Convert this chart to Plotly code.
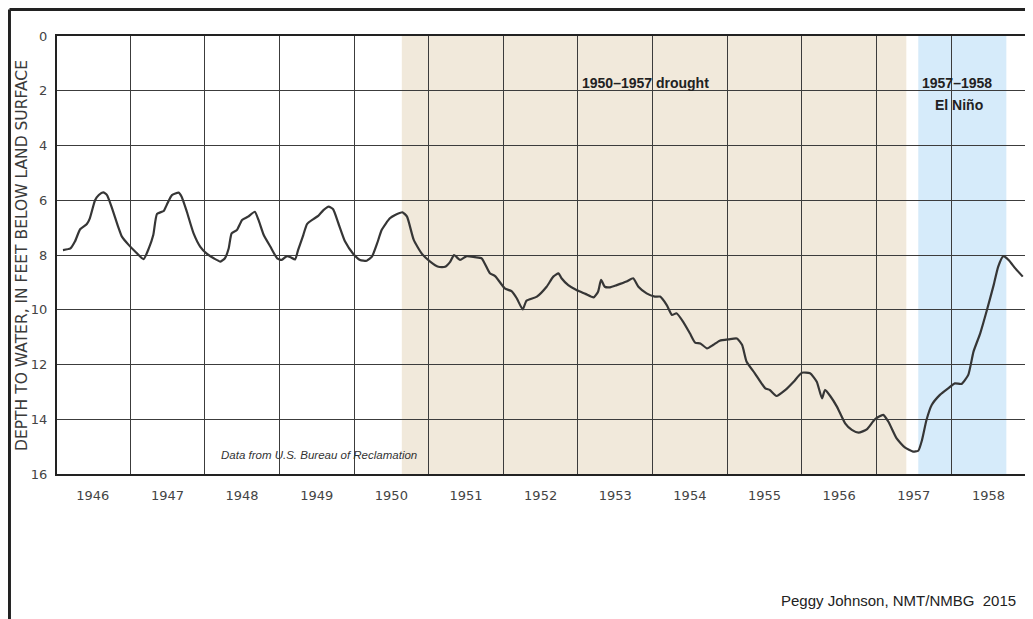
import plotly.graph_objects as go

# Hydrograph: depth to water (feet below land surface) vs. time (fractional year)
years = [
    1946.10, 1946.20, 1946.26, 1946.33, 1946.42, 1946.46, 1946.53, 1946.58, 1946.64, 1946.69,
    1946.75, 1946.84, 1946.89, 1946.98, 1947.07, 1947.18, 1947.25, 1947.31, 1947.36, 1947.45,
    1947.49, 1947.56, 1947.65, 1947.69, 1947.76, 1947.85, 1947.94, 1948.03, 1948.12, 1948.21,
    1948.27, 1948.32, 1948.36, 1948.43, 1948.50, 1948.58, 1948.67, 1948.72, 1948.79, 1948.88,
    1948.97, 1949.03, 1949.10, 1949.15, 1949.21, 1949.25, 1949.32, 1949.37, 1949.46, 1949.52,
    1949.59, 1949.66, 1949.72, 1949.79, 1949.88, 1949.99, 1950.08, 1950.17, 1950.24, 1950.31,
    1950.37, 1950.48, 1950.55, 1950.65, 1950.71, 1950.80, 1950.91, 1951.02, 1951.13, 1951.22,
    1951.29, 1951.34, 1951.42, 1951.51, 1951.62, 1951.71, 1951.82, 1951.89, 1952.02, 1952.11,
    1952.18, 1952.26, 1952.31, 1952.45, 1952.58, 1952.67, 1952.74, 1952.78, 1952.87, 1952.98,
    1953.10, 1953.21, 1953.27, 1953.31, 1953.36, 1953.43, 1953.52, 1953.65, 1953.74, 1953.81,
    1953.92, 1954.03, 1954.10, 1954.19, 1954.26, 1954.32, 1954.41, 1954.50, 1954.57, 1954.64,
    1954.73, 1954.81, 1954.90, 1955.02, 1955.13, 1955.20, 1955.26, 1955.37, 1955.51, 1955.57,
    1955.66, 1955.78, 1955.89, 1956.00, 1956.11, 1956.20, 1956.27, 1956.31, 1956.38, 1956.47,
    1956.58, 1956.67, 1956.76, 1956.87, 1956.98, 1957.09, 1957.16, 1957.27, 1957.38, 1957.49,
    1957.56, 1957.61, 1957.67, 1957.74, 1957.85, 1957.96, 1958.05, 1958.14, 1958.23, 1958.30,
    1958.39, 1958.48, 1958.57, 1958.63, 1958.70, 1958.77, 1958.86, 1958.96,
]
depth_ft = [
    7.82, 7.76, 7.51, 7.06, 6.87, 6.66, 6.00, 5.81, 5.71, 5.81,
    6.23, 6.97, 7.33, 7.63, 7.88, 8.15, 7.76, 7.27, 6.50, 6.39,
    6.17, 5.81, 5.72, 5.87, 6.42, 7.21, 7.70, 7.96, 8.12, 8.24,
    8.12, 7.76, 7.21, 7.09, 6.72, 6.60, 6.42, 6.72, 7.27, 7.70,
    8.12, 8.18, 8.04, 8.08, 8.16, 7.82, 7.27, 6.87, 6.68, 6.57,
    6.36, 6.23, 6.33, 6.84, 7.51, 7.96, 8.18, 8.21, 8.06, 7.57,
    7.09, 6.66, 6.54, 6.44, 6.60, 7.45, 7.96, 8.24, 8.43, 8.43,
    8.24, 8.00, 8.18, 8.04, 8.08, 8.12, 8.67, 8.77, 9.22, 9.32,
    9.58, 9.99, 9.67, 9.52, 9.16, 8.79, 8.67, 8.85, 9.10, 9.28,
    9.42, 9.55, 9.34, 8.91, 9.16, 9.18, 9.10, 8.97, 8.85, 9.16,
    9.40, 9.52, 9.52, 9.83, 10.19, 10.13, 10.44, 10.86, 11.20, 11.23,
    11.41, 11.29, 11.13, 11.08, 11.05, 11.29, 11.90, 12.32, 12.87, 12.93,
    13.15, 12.93, 12.63, 12.30, 12.32, 12.63, 13.24, 12.93, 13.15, 13.54,
    14.15, 14.39, 14.49, 14.37, 14.00, 13.84, 14.09, 14.70, 15.03, 15.18,
    15.15, 14.76, 14.03, 13.48, 13.11, 12.87, 12.69, 12.71, 12.38, 11.53,
    10.86, 10.01, 9.10, 8.43, 8.04, 8.18, 8.49, 8.79,
]

year_labels = ["1946", "1947", "1948", "1949", "1950", "1951", "1952",
               "1953", "1954", "1955", "1956", "1957", "1958"]
label_positions = [1946.5, 1947.5, 1948.5, 1949.5, 1950.5, 1951.5, 1952.5,
                   1953.5, 1954.5, 1955.5, 1956.5, 1957.5, 1958.5]
year_bounds = [1947, 1948, 1949, 1950, 1951, 1952, 1953, 1954, 1955, 1956, 1957, 1958]
depth_ticks = [0, 2, 4, 6, 8, 10, 12, 14, 16]

drought_period = [1950.64, 1957.40]
elnino_period = [1957.56, 1958.74]

GRID = "#3c3c3c"
SANS = "Liberation Sans, Arial, sans-serif"
WIDE = "DejaVu Sans, Verdana, sans-serif"

fig = go.Figure()
fig.add_trace(go.Scatter(
    x=years, y=depth_ft, mode="lines",
    line=dict(color="#363636", width=2.2, shape="spline", smoothing=0.5),
    hoverinfo="skip", showlegend=False,
))

shapes = [
    dict(type="rect", xref="x", yref="paper", x0=drought_period[0], x1=drought_period[1],
         y0=0, y1=1, fillcolor="#F1E9DB", line=dict(width=0), layer="below"),
    dict(type="rect", xref="x", yref="paper", x0=elnino_period[0], x1=elnino_period[1],
         y0=0, y1=1, fillcolor="#D6EBFA", line=dict(width=0), layer="below"),
    # outer slide frame (top and left edges)
    dict(type="line", xref="paper", yref="paper", x0=-0.0491, x1=1.02, y0=1.0605, y1=1.0605,
         line=dict(color="#222222", width=3)),
    dict(type="line", xref="paper", yref="paper", x0=-0.0491, x1=-0.0491, y0=1.0605, y1=-0.34,
         line=dict(color="#222222", width=3)),
]

annotations = [
    dict(text="DEPTH TO WATER, IN FEET BELOW LAND SURFACE", xref="paper", yref="paper",
         x=-0.0362, y=0.50, xanchor="center", yanchor="middle", textangle=-90, showarrow=False,
         font=dict(family=WIDE, size=15.5, color="#3a3a3a")),
    dict(text="<b>1950–1957 drought</b>", x=1953.91, y=1.72, xref="x", yref="y", showarrow=False,
         font=dict(family=SANS, size=14, color="#222222")),
    dict(text="<b>1957–1958</b>", x=1958.08, y=1.72, xref="x", yref="y", showarrow=False,
         font=dict(family=SANS, size=14, color="#222222")),
    dict(text="<b>El Niño</b>", x=1958.10, y=2.52, xref="x", yref="y", showarrow=False,
         font=dict(family=SANS, size=14, color="#222222")),
    dict(text="<i>Data from U.S. Bureau of Reclamation</i>", x=1949.53, y=15.3, xref="x", yref="y",
         showarrow=False, font=dict(family=SANS, size=11.5, color="#333333")),
    dict(text="Peggy Johnson, NMT/NMBG  2015", xref="paper", yref="paper", x=0.993, y=-0.288,
         xanchor="right", yanchor="middle", showarrow=False,
         font=dict(family=SANS, size=15, color="#222222")),
]

fig.update_layout(
    width=1025, height=611,
    margin=dict(l=49, r=8, t=28, b=145, autoexpand=False),
    paper_bgcolor="white", plot_bgcolor="white",
    shapes=shapes, annotations=annotations,
    xaxis=dict(
        range=[1946.02, 1958.99], tickvals=label_positions, ticktext=year_labels,
        showgrid=False, zeroline=False,
        ticks="outside", ticklen=8, tickcolor="rgba(0,0,0,0)",
        tickfont=dict(family=WIDE, size=13, color="#444444"),
        showline=True, linecolor="#222222", linewidth=2, mirror=True,
        minor=dict(tickvals=year_bounds, showgrid=True, gridcolor=GRID, gridwidth=1.3, ticks=""),
    ),
    yaxis=dict(
        range=[16, 0], tickvals=depth_ticks, ticktext=[str(v) for v in depth_ticks],
        showgrid=True, gridcolor=GRID, gridwidth=1.3, zeroline=False,
        ticks="outside", ticklen=5, tickcolor="rgba(0,0,0,0)",
        tickfont=dict(family=WIDE, size=13, color="#444444"),
        showline=True, linecolor="#222222", linewidth=2, mirror=True,
    ),
)

fig.write_html("out.html")
